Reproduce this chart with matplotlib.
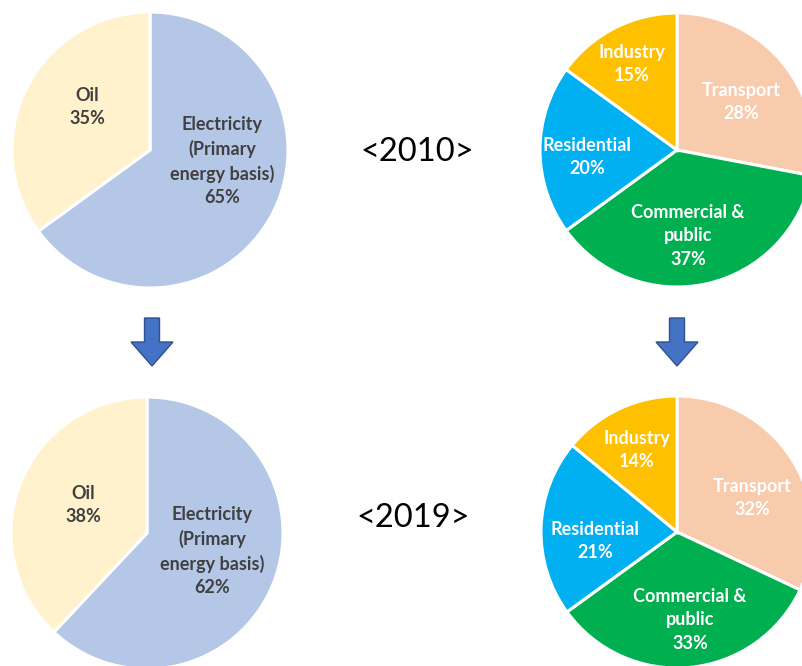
import matplotlib
matplotlib.use("Agg")
import matplotlib.pyplot as plt
from matplotlib.patches import FancyArrow

# Energy source shares
source_labels = ["Electricity\n(Primary\nenergy basis)", "Oil"]
source_2010 = [65, 35]
source_2019 = [62, 38]
source_colors = ["#B4C7E7", "#FFF2CC"]

# Sector shares
sector_labels = ["Transport", "Commercial &\npublic", "Residential", "Industry"]
sector_2010 = [28, 37, 20, 15]
sector_2019 = [32, 33, 21, 14]
sector_colors = ["#F8CBAD", "#00B050", "#00B0F0", "#FFC000"]

years = ["<2010>", "<2019>"]

W, H = 803, 666
fig = plt.figure(figsize=(W / 100, H / 100), dpi=100)
fig.patch.set_facecolor("white")

FONT = ["Lato", "DejaVu Sans"]


def draw_pie(cx, cy, r, values, colors, labels, label_pos, text_color):
    ax = fig.add_axes([(cx - r) / W, 1 - (cy + r) / H, 2 * r / W, 2 * r / H])
    ax.pie(values, colors=colors, startangle=90, counterclock=False, radius=1.0,
           wedgeprops=dict(edgecolor="white", linewidth=2.2))
    # pie() resets the limits, so fix them afterwards
    ax.set_xlim(-1, 1)
    ax.set_ylim(-1, 1)
    ax.set_aspect("equal")
    ax.axis("off")
    for lab, v, (px, py) in zip(labels, values, label_pos):
        # label position given in pixels, converted to pie units
        x = (px - cx) / r
        y = -(py - cy) / r
        ax.text(x, y, f"{lab}\n{v}%", ha="center", va="center", fontsize=13,
                fontweight="bold", color=text_color, family=FONT, linespacing=1.45)
    return ax


# Top row (2010)
draw_pie(150, 150, 138, source_2010, source_colors, source_labels,
         [(222, 161), (87, 107)], "#404040")
draw_pie(677, 150, 137, sector_2010, sector_colors, sector_labels,
         [(741, 102), (688, 236), (587, 157), (632, 64)], "white")

# Bottom row (2019)
draw_pie(147, 533, 136, source_2019, source_colors, source_labels,
         [(212, 551), (83, 505)], "#404040")
draw_pie(677, 532, 136, sector_2019, sector_colors, sector_labels,
         [(752, 498), (690, 620), (595, 541), (637, 450)], "white")

# Overlay for arrows and year labels in pixel coordinates
ov = fig.add_axes([0, 0, 1, 1])
ov.set_xlim(0, W)
ov.set_ylim(H, 0)
ov.axis("off")
ov.patch.set_alpha(0)

for ax_x in (152, 677):
    ov.add_patch(FancyArrow(ax_x, 318, 0, 48, width=15, head_width=42,
                            head_length=24, length_includes_head=True,
                            facecolor="#4472C4", edgecolor="#2F528F", linewidth=1))

ov.text(417, 152, years[0], ha="center", va="center", fontsize=23.5,
        color="black", family=FONT)
ov.text(413, 518, years[1], ha="center", va="center", fontsize=23.5,
        color="black", family=FONT)

fig.savefig("out.png", dpi=100, facecolor="white")
